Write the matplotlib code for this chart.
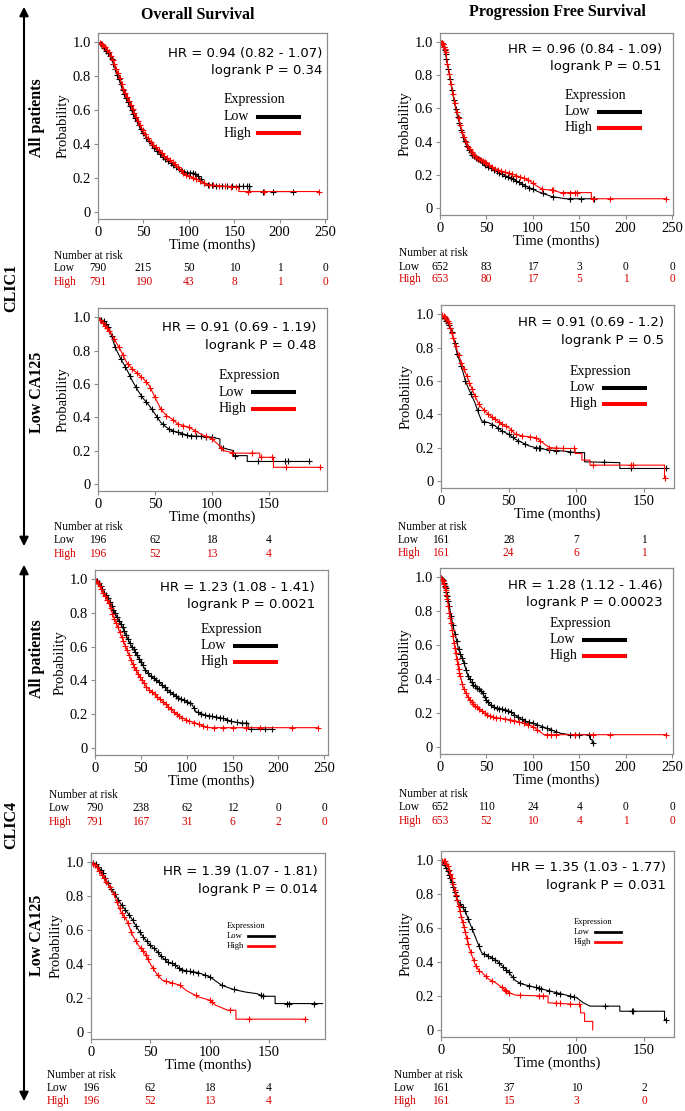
import numpy as np
import matplotlib
matplotlib.use('Agg')
import matplotlib.pyplot as plt
from matplotlib.lines import Line2D
from matplotlib.patches import FancyArrowPatch
from matplotlib.transforms import blended_transform_factory

W, H = 685, 1111
SERIF = 'Liberation Serif'
SANS = 'DejaVu Sans'
RED = '#ff0000'
RISK_RED = '#d40000'
FRAME = '#8c8c8c'

# ---------------- DATA ----------------
# repeated times mark a vertical drop of the curve

# CLIC1, overall survival, all patients
c1_os_all_low_t = [0, 3, 6, 9, 12, 15, 18, 21, 24, 27, 30, 33, 36, 39, 42, 45, 48, 51, 54, 57, 60, 65, 70, 75,
                   80, 85, 90, 95, 100, 105, 110, 115, 120, 130, 140, 150, 167, 167, 215]
c1_os_all_low_s = [1.0, 0.99, 0.975, 0.95, 0.93, 0.9, 0.86, 0.81, 0.77, 0.72, 0.68, 0.65, 0.61, 0.575, 0.545, 0.51,
                   0.48, 0.455, 0.43, 0.41, 0.39, 0.36, 0.33, 0.31, 0.29, 0.27, 0.25, 0.235, 0.23, 0.23, 0.21, 0.18,
                   0.16, 0.155, 0.15, 0.15, 0.15, 0.12, 0.12]
c1_os_all_high_t = [0, 3, 6, 9, 12, 15, 18, 21, 24, 27, 30, 33, 36, 39, 42, 45, 48, 51, 54, 57, 60, 65, 70, 75,
                    80, 85, 90, 95, 100, 105, 110, 115, 120, 130, 140, 155, 155, 243]
c1_os_all_high_s = [1.0, 0.995, 0.98, 0.965, 0.94, 0.91, 0.875, 0.83, 0.79, 0.74, 0.70, 0.665, 0.63, 0.595, 0.56,
                    0.525, 0.495, 0.465, 0.44, 0.42, 0.40, 0.375, 0.35, 0.32, 0.30, 0.28, 0.25, 0.225, 0.21, 0.20,
                    0.19, 0.175, 0.16, 0.155, 0.15, 0.145, 0.12, 0.12]
c1_os_all_low_cens = [3, 5, 7, 9, 11, 13, 15, 17, 19, 21, 23, 25, 27, 29, 31, 33, 35, 37, 39, 41, 43, 45, 47, 50,
                      53, 56, 59, 62, 65, 68, 71, 74, 77, 80, 83, 86, 89, 92, 95, 98, 101, 104, 107, 110, 113, 117,
                      121, 125, 130, 136, 142, 148, 155, 160, 164, 166, 182, 193, 215]
c1_os_all_high_cens = [2, 4, 6, 8, 10, 12, 14, 16, 18, 20, 22, 24, 26, 28, 30, 32, 34, 36, 38, 40, 42, 44, 46, 49,
                       52, 55, 58, 61, 64, 67, 70, 73, 76, 79, 82, 85, 88, 91, 94, 97, 100, 104, 108, 112, 117, 122,
                       127, 133, 140, 146, 152, 165, 183, 243]
c1_os_all_risk_low = [790, 215, 50, 10, 1, 0]
c1_os_all_risk_high = [791, 190, 43, 8, 1, 0]

# CLIC1, progression free survival, all patients
c1_pfs_all_low_t = [0, 3, 6, 8, 10, 12, 15, 18, 20, 25, 30, 35, 40, 45, 50, 55, 60, 65, 70, 75, 80, 85, 90, 95,
                    100, 105, 110, 115, 120, 135, 166]
c1_pfs_all_low_s = [1.0, 0.99, 0.93, 0.87, 0.81, 0.74, 0.65, 0.57, 0.53, 0.43, 0.36, 0.32, 0.30, 0.28, 0.255,
                    0.24, 0.225, 0.21, 0.195, 0.185, 0.17, 0.155, 0.14, 0.125, 0.115, 0.10, 0.09, 0.08, 0.07,
                    0.056, 0.056]
c1_pfs_all_high_t = [0, 3, 6, 8, 10, 12, 15, 18, 20, 25, 30, 35, 40, 45, 50, 55, 60, 65, 70, 75, 80, 85, 90, 95,
                     100, 105, 110, 115, 120, 130, 163, 163, 243]
c1_pfs_all_high_s = [1.0, 0.99, 0.94, 0.87, 0.81, 0.75, 0.66, 0.58, 0.54, 0.44, 0.37, 0.33, 0.30, 0.285, 0.27,
                     0.25, 0.235, 0.225, 0.215, 0.21, 0.20, 0.19, 0.18, 0.17, 0.15, 0.13, 0.115, 0.11, 0.11,
                     0.093, 0.093, 0.056, 0.056]
c1_pfs_all_low_cens = [2, 3, 4, 5, 6, 7, 9, 11, 13, 15, 17, 19, 21, 23, 25, 27, 29, 31, 33, 35, 37, 39, 41, 43,
                       45, 47, 49, 52, 55, 58, 61, 64, 67, 70, 73, 76, 79, 82, 85, 88, 92, 96, 100, 111, 122, 140,
                       152, 166]
c1_pfs_all_high_cens = [1, 2, 3, 4, 5, 6, 8, 10, 12, 14, 16, 18, 20, 22, 24, 26, 28, 30, 32, 34, 36, 38, 40, 42,
                        44, 46, 48, 50, 53, 56, 59, 62, 66, 70, 74, 78, 82, 86, 90, 95, 100, 110, 121, 122, 133,
                        140, 145, 148, 165, 183, 243]
c1_pfs_all_risk_low = [652, 83, 17, 3, 0, 0]
c1_pfs_all_risk_high = [653, 80, 17, 5, 1, 0]

# CLIC1, overall survival, low CA125
c1_os_ca_low_t = [0, 5, 10, 15, 20, 25, 30, 35, 40, 45, 50, 55, 60, 65, 70, 75, 80, 90, 100, 107, 107, 119, 119,
                  131, 131, 185]
c1_os_ca_low_s = [1.0, 0.976, 0.93, 0.82, 0.75, 0.69, 0.62, 0.56, 0.51, 0.47, 0.42, 0.37, 0.34, 0.32, 0.31, 0.30,
                  0.29, 0.285, 0.28, 0.27, 0.22, 0.20, 0.17, 0.17, 0.135, 0.135]
c1_os_ca_high_t = [0, 5, 10, 15, 20, 25, 30, 35, 40, 45, 50, 55, 60, 65, 70, 80, 90, 100, 105, 110, 120, 142, 142,
                   154, 154, 195]
c1_os_ca_high_s = [1.0, 0.956, 0.92, 0.86, 0.80, 0.73, 0.69, 0.66, 0.63, 0.59, 0.52, 0.45, 0.41, 0.39, 0.36, 0.34,
                   0.30, 0.27, 0.24, 0.20, 0.185, 0.185, 0.16, 0.16, 0.10, 0.10]
c1_os_ca_low_cens = [3, 5, 7, 9, 12, 15, 20, 24, 28, 33, 38, 42, 47, 52, 57, 62, 66, 70, 74, 78, 82, 86, 90, 95,
                     100, 110, 120, 140, 164, 167, 185]
c1_os_ca_high_cens = [2, 4, 6, 8, 10, 14, 18, 22, 26, 30, 34, 38, 42, 46, 50, 55, 60, 66, 70, 75, 80, 85, 95, 100,
                      108, 118, 135, 143, 153, 165, 195]
c1_os_ca_risk_low = [196, 62, 18, 4]
c1_os_ca_risk_high = [196, 52, 13, 4]

# CLIC1, progression free survival, low CA125
c1_pfs_ca_low_t = [0, 3, 6, 8, 10, 12, 15, 18, 20, 25, 28, 30, 35, 40, 45, 50, 55, 60, 65, 70, 80, 90, 100, 106,
                   106, 132, 132, 166]
c1_pfs_ca_low_s = [1.0, 0.975, 0.935, 0.895, 0.83, 0.76, 0.69, 0.60, 0.56, 0.47, 0.40, 0.36, 0.35, 0.33, 0.30,
                   0.28, 0.25, 0.23, 0.21, 0.20, 0.185, 0.18, 0.17, 0.17, 0.115, 0.11, 0.075, 0.075]
c1_pfs_ca_high_t = [0, 3, 6, 8, 10, 12, 15, 18, 20, 25, 28, 30, 35, 40, 45, 50, 55, 60, 70, 75, 80, 90, 99, 99,
                    104, 104, 110, 110, 165, 165]
c1_pfs_ca_high_s = [1.0, 0.985, 0.945, 0.885, 0.835, 0.78, 0.71, 0.65, 0.61, 0.51, 0.46, 0.44, 0.40, 0.37, 0.34,
                    0.32, 0.28, 0.27, 0.26, 0.23, 0.20, 0.195, 0.195, 0.165, 0.165, 0.125, 0.125, 0.095, 0.095,
                    0.016]
c1_pfs_ca_low_cens = [1, 2, 3, 4, 5, 6, 7, 8, 10, 12, 15, 18, 22, 27, 32, 38, 42, 45, 50, 53, 57, 62, 70, 72, 73,
                      80, 85, 95, 120, 140, 166]
c1_pfs_ca_high_cens = [1, 2, 3, 4, 5, 6, 7, 8, 9, 11, 13, 15, 17, 19, 21, 23, 25, 28, 32, 35, 38, 40, 43, 45, 48,
                       52, 55, 60, 66, 70, 73, 80, 85, 90, 98, 112, 140, 142, 165]
c1_pfs_ca_risk_low = [161, 28, 7, 1]
c1_pfs_ca_risk_high = [161, 24, 6, 1]

# CLIC4, overall survival, all patients
c4_os_all_low_t = [0, 5, 10, 15, 20, 25, 30, 35, 40, 45, 50, 55, 60, 70, 80, 90, 100, 105, 110, 120, 130, 140,
                   150, 160, 167, 167, 193]
c4_os_all_low_s = [1.0, 0.97, 0.92, 0.88, 0.82, 0.765, 0.715, 0.655, 0.60, 0.56, 0.51, 0.46, 0.43, 0.39, 0.34,
                   0.30, 0.275, 0.265, 0.215, 0.195, 0.185, 0.175, 0.155, 0.147, 0.147, 0.11, 0.11]
c4_os_all_high_t = [0, 5, 10, 15, 20, 25, 30, 35, 40, 45, 50, 55, 60, 70, 80, 90, 100, 110, 120, 125, 243]
c4_os_all_high_s = [1.0, 0.96, 0.91, 0.86, 0.78, 0.715, 0.645, 0.58, 0.51, 0.46, 0.41, 0.37, 0.34, 0.295, 0.245,
                    0.195, 0.165, 0.147, 0.127, 0.12, 0.12]
c4_os_all_low_cens = [2, 4, 6, 8, 10, 12, 14, 16, 18, 20, 22, 24, 26, 28, 30, 32, 34, 36, 38, 40, 42, 44, 46, 48,
                      50, 52, 55, 58, 61, 64, 67, 70, 73, 76, 79, 82, 85, 88, 91, 94, 97, 100, 104, 108, 112, 116,
                      120, 124, 128, 132, 136, 140, 144, 148, 155, 160, 165, 170, 185, 193]
c4_os_all_high_cens = [1, 3, 5, 7, 9, 11, 13, 15, 17, 19, 21, 23, 25, 27, 29, 31, 33, 35, 37, 39, 41, 43, 45, 47,
                       49, 51, 53, 56, 59, 62, 65, 68, 71, 74, 77, 80, 83, 86, 89, 92, 95, 99, 103, 108, 113, 118,
                       122, 130, 140, 150, 165, 180, 215, 243]
c4_os_all_risk_low = [790, 238, 62, 12, 0, 0]
c4_os_all_risk_high = [791, 167, 31, 6, 2, 0]

# CLIC4, progression free survival, all patients
c4_pfs_all_low_t = [0, 3, 6, 8, 10, 12, 15, 18, 20, 25, 30, 35, 40, 45, 50, 55, 60, 70, 75, 80, 90, 100, 110, 120,
                    130, 140, 162, 162, 164, 164, 166]
c4_pfs_all_low_s = [1.0, 0.985, 0.935, 0.89, 0.83, 0.77, 0.69, 0.625, 0.575, 0.51, 0.42, 0.37, 0.35, 0.325, 0.275,
                    0.245, 0.23, 0.22, 0.21, 0.19, 0.155, 0.14, 0.12, 0.10, 0.08, 0.072, 0.072, 0.043, 0.043,
                    0.023, 0.023]
c4_pfs_all_high_t = [0, 3, 6, 8, 10, 12, 15, 18, 20, 25, 30, 35, 40, 45, 50, 60, 70, 80, 90, 100, 105, 112, 243]
c4_pfs_all_high_s = [1.0, 0.98, 0.925, 0.87, 0.79, 0.73, 0.615, 0.52, 0.46, 0.35, 0.295, 0.255, 0.235, 0.21, 0.19,
                     0.173, 0.165, 0.155, 0.14, 0.12, 0.10, 0.072, 0.072]
c4_pfs_all_low_cens = [1, 2, 3, 4, 5, 6, 7, 8, 9, 10, 12, 14, 16, 18, 20, 22, 24, 26, 28, 30, 32, 34, 36, 38, 40,
                       42, 44, 46, 48, 50, 52, 55, 58, 61, 64, 67, 70, 73, 76, 80, 84, 88, 92, 96, 100, 105, 110,
                       115, 120, 125, 140, 145, 150, 160, 165]
c4_pfs_all_high_cens = [1, 2, 3, 4, 5, 6, 7, 8, 9, 10, 11, 12, 13, 14, 15, 16, 17, 18, 19, 20, 21, 22, 24, 26, 28,
                        30, 32, 34, 36, 38, 40, 42, 45, 48, 51, 54, 57, 60, 65, 70, 75, 80, 85, 90, 95, 100, 105,
                        115, 120, 125, 145, 165, 183, 243]
c4_pfs_all_risk_low = [652, 110, 24, 4, 0, 0]
c4_pfs_all_risk_high = [653, 52, 10, 4, 1, 0]

# CLIC4, overall survival, low CA125
c4_os_ca_low_t = [0, 5, 10, 15, 20, 25, 30, 35, 40, 45, 50, 55, 60, 65, 70, 75, 80, 90, 100, 110, 120, 130, 140,
                  145, 155, 155, 195]
c4_os_ca_low_s = [1.0, 0.985, 0.935, 0.865, 0.815, 0.755, 0.71, 0.66, 0.60, 0.55, 0.51, 0.48, 0.44, 0.41, 0.40,
                  0.37, 0.36, 0.35, 0.325, 0.275, 0.25, 0.235, 0.225, 0.21, 0.21, 0.167, 0.167]
c4_os_ca_high_t = [0, 5, 10, 15, 20, 25, 30, 35, 40, 45, 50, 55, 60, 65, 75, 80, 90, 100, 105, 115, 122, 122, 180]
c4_os_ca_high_s = [1.0, 0.975, 0.915, 0.865, 0.80, 0.71, 0.66, 0.57, 0.51, 0.47, 0.40, 0.345, 0.305, 0.295, 0.275,
                   0.245, 0.207, 0.187, 0.157, 0.128, 0.128, 0.075, 0.075]
c4_os_ca_low_cens = [2, 4, 6, 8, 10, 12, 14, 17, 20, 23, 26, 29, 32, 35, 38, 41, 44, 47, 50, 53, 56, 59, 62, 65,
                     68, 71, 74, 77, 80, 83, 86, 90, 96, 100, 110, 120, 143, 145, 165, 167, 188]
c4_os_ca_high_cens = [2, 3, 5, 7, 9, 11, 13, 16, 19, 22, 24, 26, 28, 31, 34, 38, 42, 44, 46, 48, 52, 56, 63, 68,
                      75, 88, 100, 102, 117, 133, 180]
c4_os_ca_risk_low = [196, 62, 18, 4]
c4_os_ca_risk_high = [196, 52, 13, 4]

# CLIC4, progression free survival, low CA125
c4_pfs_ca_low_t = [0, 3, 5, 8, 10, 12, 15, 18, 20, 25, 28, 30, 35, 40, 45, 50, 55, 60, 70, 80, 90, 100, 105, 110,
                   132, 132, 165, 165, 166]
c4_pfs_ca_low_s = [1.0, 0.975, 0.935, 0.875, 0.815, 0.765, 0.735, 0.70, 0.655, 0.555, 0.495, 0.455, 0.435, 0.415,
                   0.38, 0.34, 0.29, 0.27, 0.25, 0.23, 0.21, 0.19, 0.16, 0.14, 0.14, 0.11, 0.11, 0.06, 0.06]
c4_pfs_ca_high_t = [0, 3, 5, 8, 10, 12, 15, 18, 20, 22, 25, 28, 30, 35, 40, 45, 50, 55, 75, 79, 79, 100, 103, 103,
                    106, 106, 112, 112]
c4_pfs_ca_high_s = [1.0, 0.995, 0.965, 0.895, 0.825, 0.765, 0.665, 0.575, 0.505, 0.457, 0.39, 0.35, 0.34, 0.30,
                    0.28, 0.25, 0.22, 0.205, 0.20, 0.20, 0.16, 0.15, 0.15, 0.10, 0.10, 0.05, 0.05, 0.0]
c4_pfs_ca_low_cens = [1, 2, 3, 4, 5, 6, 7, 8, 9, 10, 11, 12, 14, 16, 18, 20, 23, 28, 32, 35, 38, 40, 43, 46, 48, 50,
                      53, 58, 65, 70, 72, 74, 80, 85, 88, 95, 98, 121, 141, 142, 166]
c4_pfs_ca_high_cens = [1, 2, 3, 4, 5, 6, 7, 8, 9, 10, 11, 12, 13, 14, 15, 16, 17, 18, 19, 20, 22, 24, 26, 28, 33,
                       38, 45, 47, 48, 50, 58, 72, 75, 85, 88, 95, 102]
c4_pfs_ca_risk_low = [161, 37, 10, 2]
c4_pfs_ca_risk_high = [161, 15, 3, 0]

ticks_all = [0, 50, 100, 150, 200, 250]
ticks_ca = [0, 50, 100, 150]

hr_texts = [
    ('HR = 0.94 (0.82 - 1.07)', 'logrank P = 0.34'),
    ('HR = 0.96 (0.84 - 1.09)', 'logrank P = 0.51'),
    ('HR = 0.91 (0.69 - 1.19)', 'logrank P = 0.48'),
    ('HR = 0.91 (0.69 - 1.2)', 'logrank P = 0.5'),
    ('HR = 1.23 (1.08 - 1.41)', 'logrank P = 0.0021'),
    ('HR = 1.28 (1.12 - 1.46)', 'logrank P = 0.00023'),
    ('HR = 1.39 (1.07 - 1.81)', 'logrank P = 0.014'),
    ('HR = 1.35 (1.03 - 1.77)', 'logrank P = 0.031'),
]

# ---------------- LAYOUT (pixels) ----------------
panels = [
    dict(frame=(98, 33, 327, 219), xmax=252, ticks=ticks_all,
         low=(c1_os_all_low_t, c1_os_all_low_s, c1_os_all_low_cens),
         high=(c1_os_all_high_t, c1_os_all_high_s, c1_os_all_high_cens),
         risk=(c1_os_all_risk_low, c1_os_all_risk_high), risk_x=54, risk_y=(256, 268, 282),
         hr_pos=(322, 53), leg=(224, 100, 1.0)),
    dict(frame=(440, 33, 673, 215), xmax=251, ticks=ticks_all,
         low=(c1_pfs_all_low_t, c1_pfs_all_low_s, c1_pfs_all_low_cens),
         high=(c1_pfs_all_high_t, c1_pfs_all_high_s, c1_pfs_all_high_cens),
         risk=(c1_pfs_all_risk_low, c1_pfs_all_risk_high), risk_x=399, risk_y=(253, 267, 279),
         hr_pos=(662, 49), leg=(565, 95, 1.0)),
    dict(frame=(98, 308, 327, 491), xmax=201, ticks=ticks_ca,
         low=(c1_os_ca_low_t, c1_os_ca_low_s, c1_os_ca_low_cens),
         high=(c1_os_ca_high_t, c1_os_ca_high_s, c1_os_ca_high_cens),
         risk=(c1_os_ca_risk_low, c1_os_ca_risk_high), risk_x=54, risk_y=(527, 540, 554),
         hr_pos=(316, 328), leg=(219, 376, 1.0)),
    dict(frame=(441, 305, 674, 488), xmax=172, ticks=ticks_ca,
         low=(c1_pfs_ca_low_t, c1_pfs_ca_low_s, c1_pfs_ca_low_cens),
         high=(c1_pfs_ca_high_t, c1_pfs_ca_high_s, c1_pfs_ca_high_cens),
         risk=(c1_pfs_ca_risk_low, c1_pfs_ca_risk_high), risk_x=398, risk_y=(527, 540, 553),
         hr_pos=(664, 323), leg=(570, 371, 1.0)),
    dict(frame=(95, 570, 328, 755), xmax=254, ticks=ticks_all,
         low=(c4_os_all_low_t, c4_os_all_low_s, c4_os_all_low_cens),
         high=(c4_os_all_high_t, c4_os_all_high_s, c4_os_all_high_cens),
         risk=(c4_os_all_risk_low, c4_os_all_risk_high), risk_x=49, risk_y=(795, 808, 822),
         hr_pos=(315, 587), leg=(201, 629, 1.0)),
    dict(frame=(440, 568, 673, 754), xmax=251, ticks=ticks_all,
         low=(c4_pfs_all_low_t, c4_pfs_all_low_s, c4_pfs_all_low_cens),
         high=(c4_pfs_all_high_t, c4_pfs_all_high_s, c4_pfs_all_high_cens),
         risk=(c4_pfs_all_risk_low, c4_pfs_all_risk_high), risk_x=399, risk_y=(794, 807, 821),
         hr_pos=(663, 585), leg=(550, 623, 1.0)),
    dict(frame=(91, 853, 325, 1039), xmax=197, ticks=ticks_ca,
         low=(c4_os_ca_low_t, c4_os_ca_low_s, c4_os_ca_low_cens),
         high=(c4_os_ca_high_t, c4_os_ca_high_s, c4_os_ca_high_cens),
         risk=(c4_os_ca_risk_low, c4_os_ca_risk_high), risk_x=47, risk_y=(1075, 1088, 1101),
         hr_pos=(318, 872), leg=(227, 926, 0.62)),
    dict(frame=(441, 851, 674, 1037), xmax=172, ticks=ticks_ca,
         low=(c4_pfs_ca_low_t, c4_pfs_ca_low_s, c4_pfs_ca_low_cens),
         high=(c4_pfs_ca_high_t, c4_pfs_ca_high_s, c4_pfs_ca_high_cens),
         risk=(c4_pfs_ca_risk_low, c4_pfs_ca_risk_high), risk_x=394, risk_y=(1075, 1088, 1101),
         hr_pos=(666, 868), leg=(574, 922, 0.62)),
]


def fx(x):
    return x / W


def fy(y):
    return 1 - y / H


fig = plt.figure(figsize=(W / 100, H / 100), dpi=100)

for p, (hr1, hr2) in zip(panels, hr_texts):
    l, t, r, b = p['frame']
    ax = fig.add_axes([fx(l), fy(b), (r - l) / W, (b - t) / H])

    for (ct, cs, cc), col in ((p['low'], 'black'), (p['high'], RED)):
        ax.plot(ct, cs, color=col, lw=0.8)
        # censoring marks sit on the curve
        ax.plot(cc, np.interp(cc, ct, cs), ls='none', marker='+', color=col, markersize=4.5, mew=0.8)

    ax.set_xlim(0, p['xmax'])
    ax.set_ylim(-0.042, 1.055)
    ax.set_xticks(p['ticks'])
    ax.set_yticks([0, 0.2, 0.4, 0.6, 0.8, 1.0])
    ax.set_yticklabels(['0', '0.2', '0.4', '0.6', '0.8', '1.0'])
    for lab in ax.get_xticklabels() + ax.get_yticklabels():
        lab.set_fontfamily(SERIF)
        lab.set_fontsize(10.5)
    ax.tick_params(length=3, width=0.8, color=FRAME, pad=2)
    for sp in ax.spines.values():
        sp.set_color(FRAME)
        sp.set_linewidth(0.9)
    ax.set_xlabel('Time (months)', family=SERIF, fontsize=10.5, labelpad=0)
    ax.set_ylabel('Probability', family=SERIF, fontsize=10.5, labelpad=2)

    # HR / logrank text
    hx, hy = p['hr_pos']
    fig.text(fx(hx), fy(hy), hr1, ha='right', va='center', family=SANS, fontsize=9.5)
    fig.text(fx(hx), fy(hy + 17.5), hr2, ha='right', va='center', family=SANS, fontsize=9.5)

    # legend
    lx, ly, k = p['leg']
    fs = 10 * k
    fig.text(fx(lx), fy(ly), 'Expression', ha='left', va='center', family=SERIF, fontsize=fs)
    for i, (name, col) in enumerate((('Low', 'black'), ('High', RED))):
        yy = ly + (16.5 + 16.5 * i) * k
        fig.text(fx(lx), fy(yy), name, ha='left', va='center', family=SERIF, fontsize=fs)
        fig.add_artist(Line2D([fx(lx + 34 * k), fx(lx + 75 * k)], [fy(yy), fy(yy)],
                              color=col, lw=2.5 * k + 0.4))

    # number at risk table
    tr = blended_transform_factory(ax.transData, fig.transFigure)
    y0, y1, y2 = p['risk_y']
    fig.text(fx(p['risk_x']), fy(y0), 'Number at risk', ha='left', va='center', family=SERIF, fontsize=8.3)
    fig.text(fx(p['risk_x']), fy(y1), 'Low', ha='left', va='center', family=SERIF, fontsize=8.3)
    fig.text(fx(p['risk_x']), fy(y2), 'High', ha='left', va='center', family=SERIF, fontsize=8.3, color=RISK_RED)
    low_n, high_n = p['risk']
    for tk, nl, nh in zip(p['ticks'], low_n, high_n):
        ax.text(tk, fy(y1), str(nl), transform=tr, ha='center', va='center', family=SERIF, fontsize=8.3)
        ax.text(tk, fy(y2), str(nh), transform=tr, ha='center', va='center', family=SERIF, fontsize=8.3,
                color=RISK_RED)

# column titles
fig.text(fx(198), fy(15), 'Overall Survival', ha='center', va='center', family=SERIF,
         fontweight='bold', fontsize=11.5)
fig.text(fx(557), fy(12), 'Progression Free Survival', ha='center', va='center', family=SERIF,
         fontweight='bold', fontsize=11.5)

# row labels and arrows
side_labels = [('CLIC1', 11, 288), ('CLIC4', 11, 825), ('All patients', 37, 118), ('Low CA125', 37, 392),
               ('All patients', 37, 659), ('Low CA125', 37, 935)]
for txt, x, y in side_labels:
    fig.text(fx(x), fy(y), txt, rotation=90, ha='center', va='center', family=SERIF,
             fontweight='bold', fontsize=11.5)

for ya, yb in ((4, 549), (562, 1104)):
    arr = FancyArrowPatch((fx(24), fy(ya)), (fx(24), fy(yb)), transform=fig.transFigure,
                          arrowstyle='<|-|>', mutation_scale=13, lw=1.5, color='black')
    fig.add_artist(arr)

fig.savefig('out.png', dpi=100)
